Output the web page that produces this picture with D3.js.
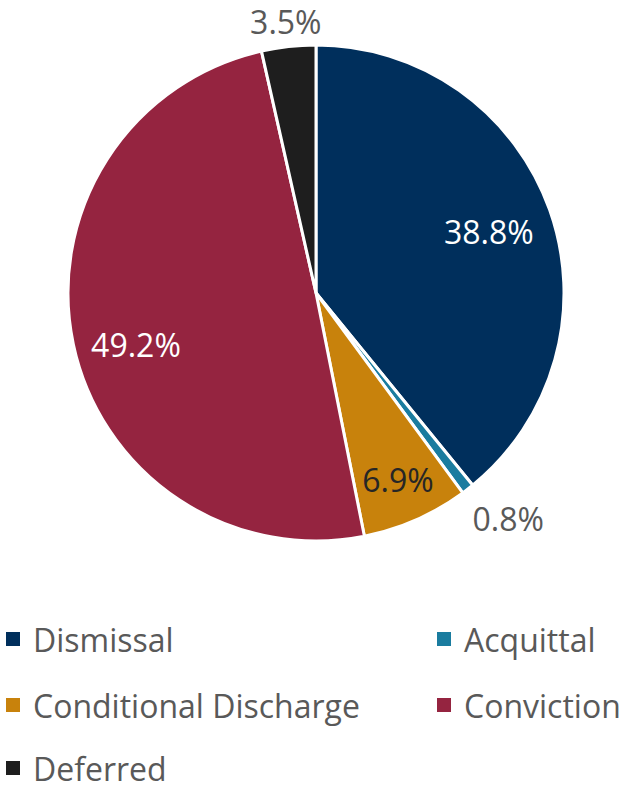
<!DOCTYPE html>
<html>
<head>
<meta charset="utf-8">
<script src="https://cdn.jsdelivr.net/npm/d3@7"></script>
<style>
  html, body { margin: 0; padding: 0; background: #fff; }
  svg { display: block; font-family: "Open Sans", "Noto Sans", sans-serif; }
</style>
</head>
<body>
<svg id="chart" width="628" height="790"></svg>
<script>
// Case outcomes, share of all dispositions (%)
const categories = ["Dismissal", "Acquittal", "Conditional Discharge", "Conviction", "Deferred"];
const shares = [38.8, 0.8, 6.9, 49.2, 3.5];
const colors = ["#002f5c", "#1a7c9f", "#c8820c", "#952440", "#1e1e1e"];
const labelColors = ["#ffffff", "#595959", "#262626", "#ffffff", "#595959"];

const svg = d3.select("#chart");
const cx = 316, cy = 293, R = 248;

const data = categories.map((c, i) => ({ name: c, value: shares[i], color: colors[i], labelColor: labelColors[i] }));

const pie = d3.pie().value(d => d.value).sort(null);
const arcs = pie(data);
const arc = d3.arc().innerRadius(0).outerRadius(R);

const g = svg.append("g").attr("transform", `translate(${cx},${cy})`);

g.selectAll("path.slice")
  .data(arcs)
  .join("path")
  .attr("class", "slice")
  .attr("d", arc)
  .attr("fill", d => d.data.color)
  .attr("stroke", "#ffffff")
  .attr("stroke-width", 3)
  .attr("stroke-linejoin", "round");

// label radius (fraction of the pie radius) and angular nudge (degrees) per slice
const labelRadius = [0.74, 1.195, 0.82, 0.755, 1.1];
const labelNudge = [0, -2.7, 0, -4, 0];
const fmt = d3.format(".1f");

g.selectAll("text.value")
  .data(arcs)
  .join("text")
  .attr("class", "value")
  .attr("transform", (d, i) => {
    const r = R * labelRadius[i];
    const a = (d.startAngle + d.endAngle) / 2 + labelNudge[i] * Math.PI / 180;
    return `translate(${r * Math.sin(a)},${-r * Math.cos(a)})`;
  })
  .attr("text-anchor", "middle")
  .attr("dominant-baseline", "central")
  .attr("font-size", 32)
  .attr("fill", d => d.data.labelColor)
  .text(d => fmt(d.data.value) + "%");

// Legend: two columns, three rows
const legendCols = [6, 437];
const legendRows = [639, 705, 768];
const legend = svg.append("g").attr("class", "legend");
const items = legend.selectAll("g.item")
  .data(data)
  .join("g")
  .attr("class", "item")
  .attr("transform", (d, i) => `translate(${legendCols[i % 2]},${legendRows[Math.floor(i / 2)]})`);

items.append("rect")
  .attr("x", 0).attr("y", -7)
  .attr("width", 14).attr("height", 14)
  .attr("fill", d => d.color);

items.append("text")
  .attr("x", 27)
  .attr("y", 0)
  .attr("dominant-baseline", "central")
  .attr("font-size", 32)
  .attr("fill", "#595959")
  .text(d => d.name);
</script>
</body>
</html>
